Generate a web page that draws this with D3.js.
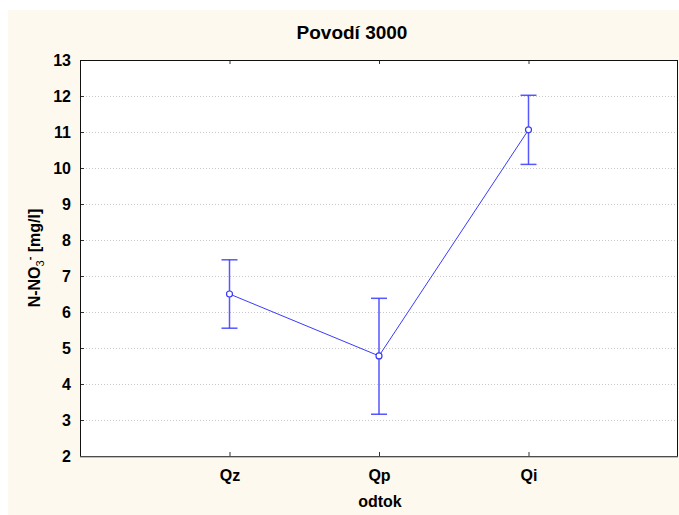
<!DOCTYPE html>
<html>
<head>
<meta charset="utf-8">
<script src="https://cdn.jsdelivr.net/npm/d3@7"></script>
<style>
  body { margin: 0; background: #fff; }
  text { font-family: "Liberation Sans", Arial, sans-serif; font-weight: bold; fill: #000; }
</style>
</head>
<body>
<div id="chart"></div>
<script>
// data
var categories = ["Qz", "Qp", "Qi"];
var means = [6.5, 4.78, 11.06];
var lower = [5.55, 3.16, 10.1];
var upper = [7.45, 6.38, 12.02];
var yTicks = [2, 3, 4, 5, 6, 7, 8, 9, 10, 11, 12, 13];

var width = 679, height = 515;
var margin = {left: 80, top: 60, right: 1, bottom: 59};

var svg = d3.select("#chart").append("svg")
    .attr("width", width)
    .attr("height", height);

// cream background panel
svg.append("rect")
    .attr("x", 8).attr("y", 10)
    .attr("width", width - 8).attr("height", height - 10)
    .style("fill", "#fef9ee");

var plotW = width - margin.left - margin.right,
    plotH = height - margin.top - margin.bottom;

var x = d3.scalePoint()
    .domain(["_a"].concat(categories, ["_b"]))
    .range([0, plotW]);

var y = d3.scaleLinear()
    .domain([2, 13])
    .range([plotH, 0]);

var g = svg.append("g")
    .attr("transform", "translate(" + margin.left + "," + margin.top + ")");

g.append("rect")
    .attr("width", plotW).attr("height", plotH)
    .style("fill", "#fff");

// dotted gridlines
g.selectAll(".grid")
    .data(yTicks.filter(d => d > 2 && d < 13))
    .enter().append("line")
    .attr("x1", 0).attr("x2", plotW)
    .attr("y1", d => y(d) + 0.5).attr("y2", d => y(d) + 0.5)
    .style("stroke", "#c8c8c8")
    .style("stroke-dasharray", "1,2");

var tickFont = function (sel) {
    sel.style("font-size", "16px")
        .style("font-family", "Liberation Sans, Arial, sans-serif")
        .style("font-weight", "bold");
};

// y axis labels + ticks
var yAxis = d3.axisLeft(y).tickValues(yTicks).tickSize(-4).tickPadding(9);
var yg = g.append("g").call(yAxis);
yg.select(".domain").remove();
yg.selectAll("line").style("stroke", "#333");
yg.selectAll("text").call(tickFont);

// x axis
var xAxis = d3.axisBottom(x).tickValues(categories).tickSize(-4).tickPadding(14);
var xg = g.append("g").attr("transform", "translate(0," + plotH + ")").call(xAxis);
xg.select(".domain").remove();
xg.selectAll("line").style("stroke", "#333");
xg.selectAll("text").call(tickFont);

// top ticks
g.append("g").call(d3.axisTop(x).tickValues(categories).tickSize(-4).tickFormat(""))
    .call(s => s.select(".domain").remove())
    .selectAll("line").style("stroke", "#333");

// frame
g.append("rect")
    .attr("x", 0.5).attr("y", 0.5)
    .attr("width", plotW - 1).attr("height", plotH)
    .style("fill", "none")
    .style("stroke", "#111")
    .style("stroke-width", 1);
g.append("line")
    .attr("x1", 0).attr("x2", plotW)
    .attr("y1", plotH + 1).attr("y2", plotH + 1)
    .style("stroke", "#888");

var col = "#3a3aff";

// error bars
var eb = g.selectAll(".eb")
    .data(categories)
    .enter().append("g").attr("class", "eb");
eb.append("line")
    .attr("x1", d => x(d)).attr("x2", d => x(d))
    .attr("y1", (d, i) => y(lower[i])).attr("y2", (d, i) => y(upper[i]))
    .style("stroke", col).style("stroke-width", 1.5).style("opacity", 0.85);
eb.append("line")
    .attr("x1", d => x(d) - 8).attr("x2", d => x(d) + 8)
    .attr("y1", (d, i) => y(upper[i])).attr("y2", (d, i) => y(upper[i]))
    .style("stroke", col).style("stroke-width", 1.5).style("opacity", 0.85);
eb.append("line")
    .attr("x1", d => x(d) - 8).attr("x2", d => x(d) + 8)
    .attr("y1", (d, i) => y(lower[i])).attr("y2", (d, i) => y(lower[i]))
    .style("stroke", col).style("stroke-width", 1.5).style("opacity", 0.85);

// mean line
var line = d3.line()
    .x((d, i) => x(categories[i]))
    .y(d => y(d));
g.append("path")
    .datum(means)
    .attr("d", line)
    .style("fill", "none")
    .style("stroke", col)
    .style("stroke-width", 1);

g.selectAll(".pt")
    .data(means)
    .enter().append("circle")
    .attr("cx", (d, i) => x(categories[i]))
    .attr("cy", d => y(d))
    .attr("r", 3)
    .style("fill", "#fff")
    .style("stroke", col)
    .style("stroke-width", 1.2);

// titles
svg.append("text")
    .attr("x", 352).attr("y", 39)
    .attr("text-anchor", "middle")
    .style("font-size", "19px")
    .text("Povodí 3000");

svg.append("text")
    .attr("x", 380).attr("y", 507)
    .attr("text-anchor", "middle")
    .style("font-size", "16px")
    .text("odtok");

var yl = svg.append("text")
    .attr("transform", "translate(40,258) rotate(-90)")
    .attr("text-anchor", "middle")
    .style("font-size", "16px");
yl.append("tspan").text("N-NO");
yl.append("tspan").attr("dy", 4).style("font-size", "11px").style("font-weight", "normal").text("3");
yl.append("tspan").attr("dy", -11).style("font-size", "11px").text("-");
yl.append("tspan").attr("dy", 7).text(" [mg/l]");
</script>
</body>
</html>
